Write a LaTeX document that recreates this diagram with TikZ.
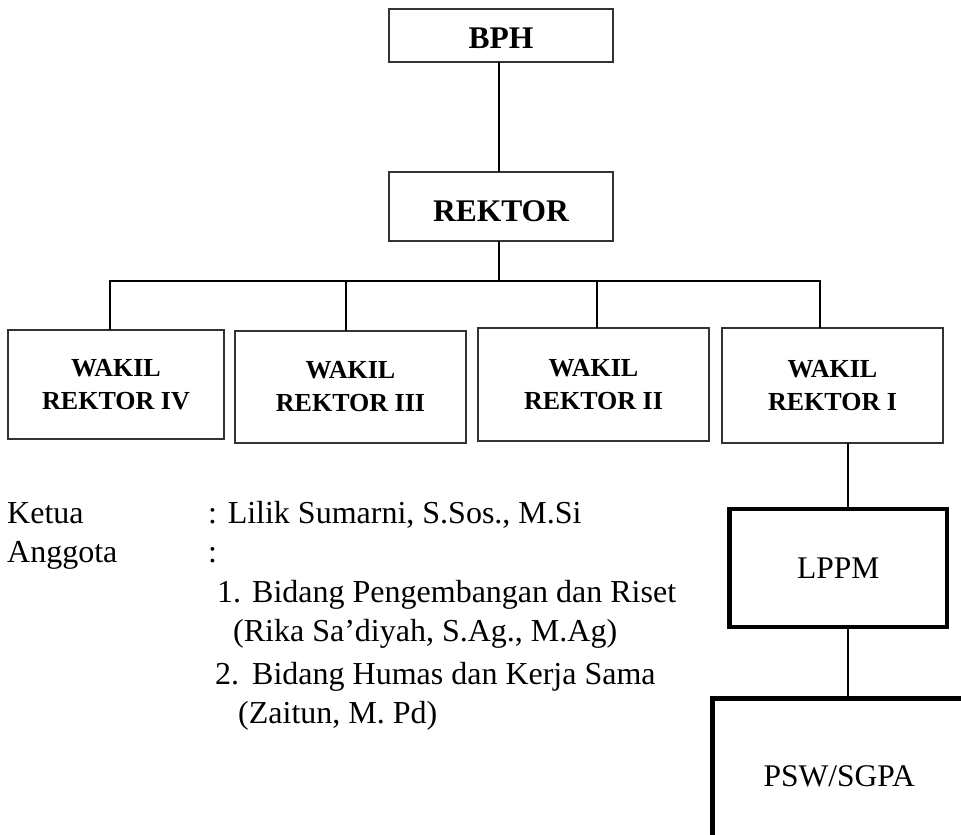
\documentclass[tikz,border=0pt]{standalone}
\usepackage{fontspec}
\setmainfont{Liberation Serif}
\begin{document}
\begin{tikzpicture}[x=1pt,y=-1pt,
  thinbox/.style={draw=black!80,line width=1.2pt,inner sep=0pt,outer sep=0pt,align=center},
  topbox/.style={thinbox,font=\fontsize{31.5}{36}\selectfont\bfseries},
  wakilbox/.style={thinbox,font=\fontsize{26}{33}\selectfont\bfseries},
  thickbox/.style={draw=black,line width=4.5pt,inner sep=0pt,outer sep=0pt,font=\fontsize{31.5}{36}\selectfont},
  conn/.style={draw=black,line width=1.8pt},
  txt/.style={anchor=base west,inner sep=0pt,font=\fontsize{32}{38}\selectfont}]
\useasboundingbox (0,0) rectangle (961,835);
\clip (0,0) rectangle (961,835);
% top boxes
\node[topbox,minimum width=224pt,minimum height=53pt,text height=27pt] (bph) at (501,35.5) {BPH};
\node[topbox,minimum width=224pt,minimum height=69pt,text height=31pt] (rektor) at (501,206.5) {REKTOR};
% wakil boxes
\node[wakilbox,minimum width=216pt,minimum height=109pt] (wr4) at (116,384.5) {WAKIL\\REKTOR IV};
\node[wakilbox,minimum width=231pt,minimum height=112pt] (wr3) at (350.5,387) {WAKIL\\REKTOR III};
\node[wakilbox,minimum width=231pt,minimum height=113pt] (wr2) at (593.5,384.5) {WAKIL\\REKTOR II};
\node[wakilbox,minimum width=221pt,minimum height=115pt] (wr1) at (832.5,385.5) {WAKIL\\REKTOR I};
% lower boxes
\node[thickbox,minimum width=217.5pt,minimum height=118pt] (lppm) at (838.25,568) {LPPM};
\node[thickbox,minimum width=253.5pt,minimum height=155pt,anchor=north west] (psw) at (712.5,698.5) {PSW/SGPA};
% connector coordinates
\coordinate (spine) at (499,281);
\coordinate (d4) at (110,281);
\coordinate (d3) at (346,281);
\coordinate (d2) at (597,281);
\coordinate (d1) at (820,281);
\coordinate (sub) at (848,500);
% connectors
\draw[conn] (bph.south -| spine) -- (rektor.north -| spine);
\draw[conn] (rektor.south -| spine) -- (spine);
\draw[conn] (wr4.north -| d4) -- (d4) -- (d1) -- (wr1.north -| d1);
\draw[conn] (d3) -- (wr3.north -| d3);
\draw[conn] (d2) -- (wr2.north -| d2);
\draw[conn] (wr1.south -| sub) -- (lppm.north -| sub);
\draw[conn] (lppm.south -| sub) -- (psw.north -| sub);
% text block
\node[txt] (ketua) at (7,523) {Ketua};
\node[txt] (ketuan) at (208,523) {: Lilik Sumarni, S.Sos., M.Si};
\node[txt] (anggota) at (7,562) {Anggota};
\node[txt] (anggotac) at (208,562) {:};
\node[txt] (n1) at (217,602) {1.};
\node[txt] (b1) at (252,602) {Bidang Pengembangan dan Riset};
\node[txt] (p1) at (233,641.5) {(Rika Sa’diyah, S.Ag., M.Ag)};
\node[txt] (n2) at (215,684) {2.};
\node[txt] (b2) at (252,684) {Bidang Humas dan Kerja Sama};
\node[txt] (p2) at (238,723.5) {(Zaitun, M. Pd)};
\end{tikzpicture}
\end{document}
